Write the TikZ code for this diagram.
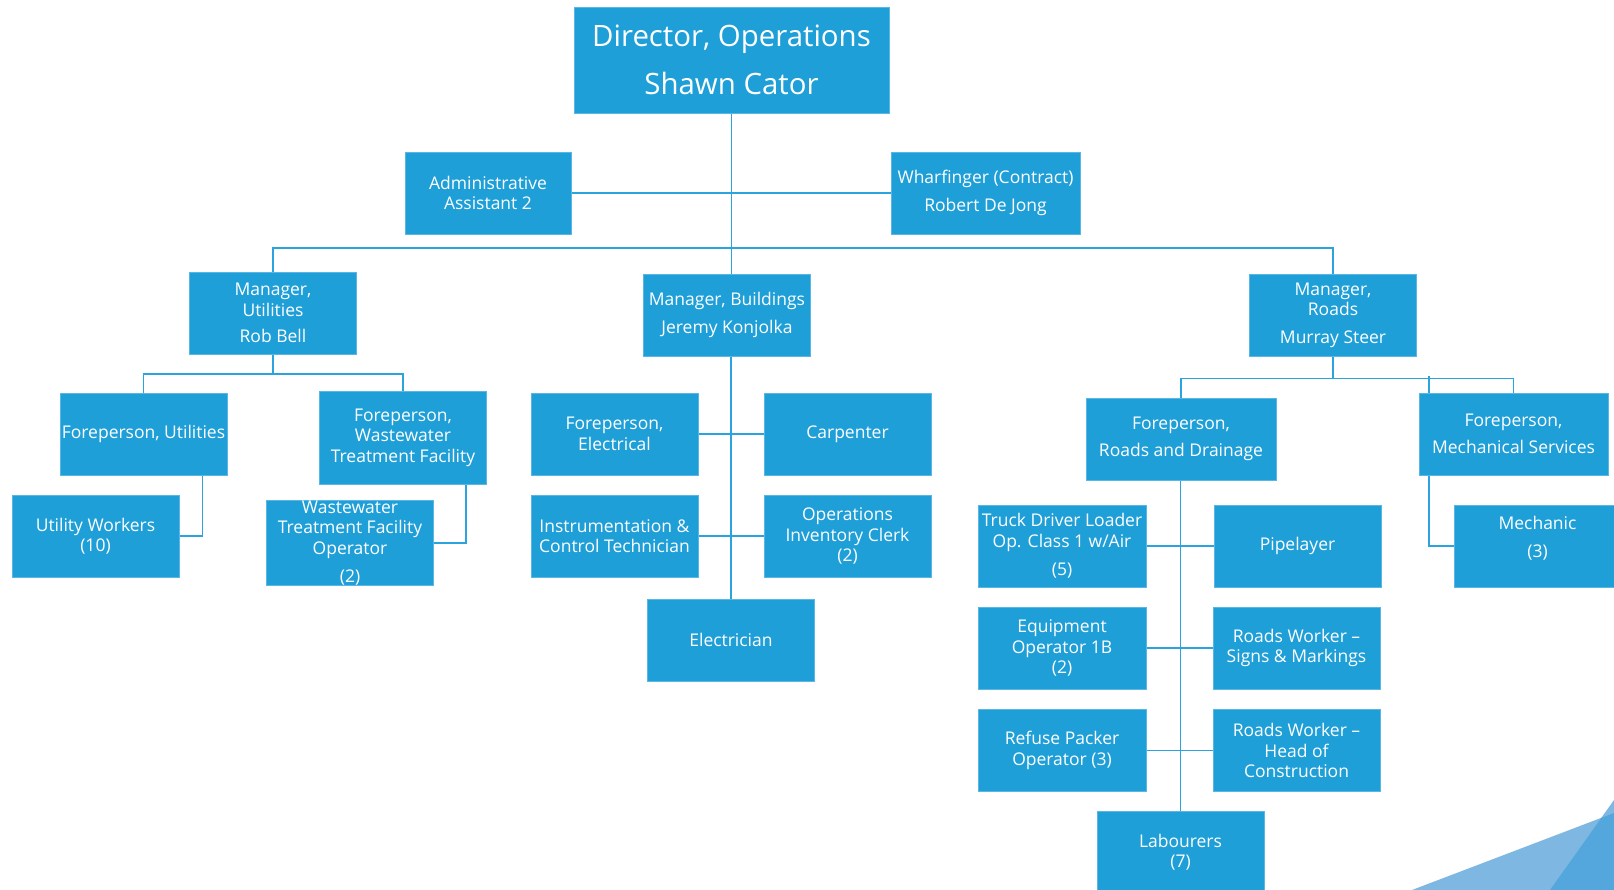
\documentclass[tikz,border=0pt]{standalone}
\usepackage{fontspec}
\setmainfont{Open Sans}
\usetikzlibrary{backgrounds}
\definecolor{boxblue}{RGB}{30,159,216}
\definecolor{boxedge}{RGB}{90,182,228}
\definecolor{lineblue}{RGB}{43,163,222}
\definecolor{triA}{RGB}{126,184,226}
\definecolor{triB}{RGB}{84,167,220}
\newcommand{\bodyfont}{\fontsize{17.5}{20.5}\selectfont}
\newcommand{\bigfont}{\fontsize{29.4}{48}\selectfont}
\begin{document}
\begin{tikzpicture}[x=1pt,y=-1pt,
  box/.style={rectangle, fill=boxblue, draw=boxedge, line width=0.6pt, text=white, align=center, inner sep=0pt, minimum width=167pt, minimum height=82pt, font=\bodyfont, execute at begin node={\vspace*{4pt}}},
  btext/.style={text=white, align=center, inner sep=0pt, font=\bodyfont},
  conn/.style={draw=lineblue, line width=1.4pt}]
\useasboundingbox (0,0) rectangle (1614,890);

\node[box, minimum width=315pt, minimum height=106pt, font=\bigfont] (dir) at (731.5,60) {Director, Operations\\Shawn Cator};
\node[box, minimum width=166pt] (admin) at (488,193) {Administrative\\Assistant 2};
\node[box, minimum width=189pt] (wharf) at (985.5,193) {Wharfinger (Contract)\\[8pt]Robert De Jong};
\node[box] (mu) at (273,313) {Manager,\\Utilities\\[6pt]Rob Bell};
\node[box] (mb) at (727,315) {Manager, Buildings\\[8pt]Jeremy Konjolka};
\node[box] (mr) at (1333,315) {Manager,\\Roads\\[7pt]Murray Steer};
\node[box] (fu) at (143.5,434) {Foreperson, Utilities};
\node[box, minimum height=93pt] (fwtf) at (403,437.5) {Foreperson,\\Wastewater\\Treatment Facility};
\node[box] (uw) at (95.5,536) {Utility Workers\\(10)};
\node[box] (wtfo) at (350,543) {Wastewater\\Treatment Facility\\Operator\\[8pt](2)};
\node[box] (fe) at (614.5,434) {Foreperson,\\Electrical};
\node[box] (carp) at (847.5,434) {Carpenter};
\node[box] (inst) at (614.5,536) {Instrumentation \&\\Control Technician};
\node[box] (oic) at (847.5,536) {Operations\\Inventory Clerk\\(2)};
\node[box] (elec) at (731,640) {Electrician};
\node[box, minimum width=190pt] (frd) at (1181,439) {Foreperson,\\[6pt]Roads and Drainage};
\node[box, minimum width=189pt] (fms) at (1513.5,434) {Foreperson,\\[7pt]Mechanical Services};
\node[box] (mech) at (1537.5,546) {};
\node[btext] (mechT) at (1537.5,538) {Mechanic\\[8pt](3)};
\node[box, minimum width=168pt] (td) at (1062,546) {Truck Driver Loader\\Op. Class 1 w/Air\\[8pt](5)};
\node[box] (pipe) at (1297.5,546) {Pipelayer};
\node[box, minimum width=168pt] (eo) at (1062,648) {Equipment\\Operator 1B\\(2)};
\node[box] (rws) at (1296.5,648) {Roads Worker –\\Signs \& Markings};
\node[box, minimum width=168pt] (rp) at (1062,750.5) {Refuse Packer\\Operator (3)};
\node[box] (rwh) at (1296.5,750.5) {Roads Worker –\\Head of\\Construction};
\node[box] (lab) at (1180.5,852) {Labourers\\(7)};

\coordinate (barA) at (0,248);
\coordinate (barU) at (0,374);
\coordinate (barR) at (0,378.5);
\coordinate (mstub) at (1429,376);

\begin{pgfonlayer}{background}
\fill[white] (0,0) rectangle (1614,890);
\fill[triA] (1412,890) -- (1614,813) -- (1614,890) -- cycle;
\fill[triA] (1550,890) -- (1614,800) -- (1614,890) -- cycle;
\fill[triB] (1550,890) -- (1601.4,817.8) -- (1614,813) -- (1614,890) -- cycle;
\draw[conn] (dir.south) -- (dir.south |- mb.north);
\draw[conn] (admin.east) -- (wharf.west);
\draw[conn] (mu.north) -- (mu.north |- barA) -- (mr.north |- barA) -- (mr.north);
\draw[conn] (mu.south) -- (mu.south |- barU);
\draw[conn] (fu.north) -- (fu.north |- barU) -- (fwtf.north |- barU) -- (fwtf.north);
\draw[conn] ([xshift=59pt]fu.south) |- (uw.east);
\draw[conn] ([xshift=63pt]fwtf.south) |- (wtfo.east);
\draw[conn] (elec.north |- mb.south) -- (elec.north);
\draw[conn] (fe.east) -- (carp.west);
\draw[conn] (inst.east) -- (oic.west);
\draw[conn] (mr.south) -- (mr.south |- barR);
\draw[conn] (frd.north) -- (frd.north |- barR) -- (fms.north |- barR) -- (fms.north);
\draw[conn] (mstub) |- (mech.west);
\draw[conn] (lab.north |- frd.south) -- (lab.north);
\draw[conn] (td.east) -- (pipe.west);
\draw[conn] (eo.east) -- (rws.west);
\draw[conn] (rp.east) -- (rwh.west);
\end{pgfonlayer}
\end{tikzpicture}
\end{document}
